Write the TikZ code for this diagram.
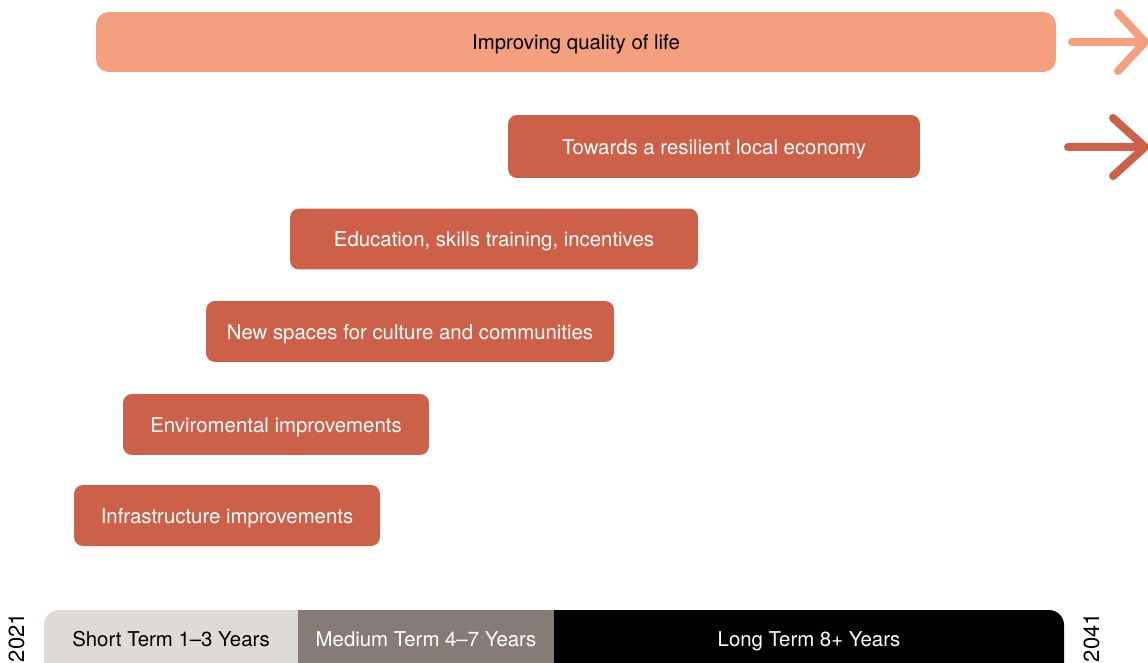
\documentclass[tikz,border=0pt]{standalone}
\usepackage{fontspec}
\setmainfont{TeX Gyre Heros}
\usepackage{tikz}
\usetikzlibrary{positioning}
\definecolor{salmon}{HTML}{F4A07E}
\definecolor{rust}{HTML}{CD6048}
\definecolor{lightgrey}{HTML}{DEDAD8}
\definecolor{midgrey}{HTML}{877B78}
\begin{document}
\begin{tikzpicture}[x=0.02cm, y=-0.02cm, font=\fontsize{11.6}{13}\selectfont,
  every node/.style={text height=1.8ex,text depth=.1ex},
  task/.style={rectangle,rounded corners=0.18cm,fill=rust,text=white,minimum height=1.22cm,inner sep=0pt},
  goal/.style={rectangle,rounded corners=0.25cm,fill=salmon,text=black,minimum height=1.2cm,inner sep=0pt},
  chevron/.style={line width=0.16cm,line cap=round,line join=round},
  year/.style={rotate=90,inner sep=0pt,text height=1.45ex,font=\fontsize{12.5}{14}\selectfont}]
\clip (0,0) rectangle (1148,662);
% goals
\node[goal,minimum width=19.2cm] (life) at (576,42) {Improving quality of life};
\node[task,minimum width=8.24cm,minimum height=1.26cm] (economy) at (714,146.5) {Towards a resilient local economy};
\node[task,minimum width=8.16cm] (education) at (494,239) {Education, skills training, incentives};
\node[task,minimum width=8.16cm] (spaces) at (410,331.5) {New spaces for culture and communities};
\node[task,minimum width=6.12cm] (enviro) at (276,424.5) {Enviromental improvements};
\node[task,minimum width=6.12cm] (infra) at (227,515.5) {Infrastructure improvements};
% arrows
\begin{scope}
\coordinate (a1) at (1072,42);
\coordinate (t1) at (1145,42);
\draw[chevron,salmon] (a1) -- (t1) (1118,13) -- (t1) -- (1118,71);
\coordinate (a2) at (1068,147);
\coordinate (t2) at (1145,147);
\draw[chevron,rust] (a2) -- (t2) (1113,118) -- (t2) -- (1113,176);
\end{scope}
% timeline
\fill[lightgrey,rounded corners=0.3cm] (44,610) rectangle (330,700);
\fill[black,rounded corners=0.3cm] (520,610) rectangle (1064,700);
\fill[midgrey] (298,610) rectangle (554,700);
\node (short) at (171,639) {Short Term 1--3 Years};
\node[text=white] (medium) at (426,639) {Medium Term 4--7 Years};
\node[text=white] (long) at (809,639) {Long Term 8+ Years};
\node[year,anchor=east] (y2021) at (18,613) {2021};
\node[year,anchor=east] (y2041) at (1093,613) {2041};
\end{tikzpicture}
\end{document}
